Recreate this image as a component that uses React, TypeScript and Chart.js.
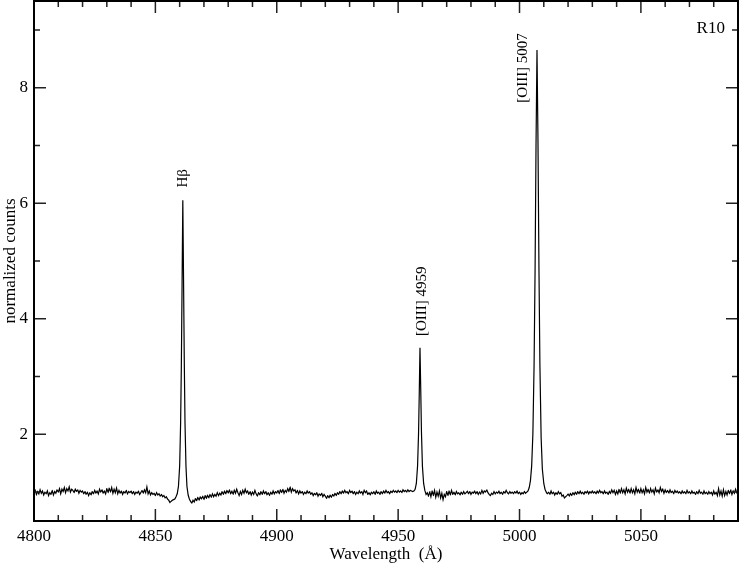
import { useEffect, useRef } from "react";
import { Chart, registerables } from "chart.js";

Chart.register(...registerables);

// ---- data: [wavelength (Å), normalized counts] ----
const blueContinuum: [number, number][] = [
  [4800, 0.99], [4800.5, 1.03], [4801, 0.96], [4801.5, 1.01], [4802, 0.97], [4802.5, 1.04], [4803, 0.98], [4803.5, 1.02], [4804, 0.95], [4804.5, 1.0],
  [4805, 0.97], [4805.5, 1.02], [4806, 0.94], [4806.5, 0.99], [4807, 0.96], [4807.5, 1.03], [4808, 0.95], [4808.5, 1.01], [4809, 0.98], [4809.5, 1.04],
  [4810, 1.0], [4810.5, 1.06], [4811, 0.97], [4811.5, 1.05], [4812, 1.01], [4812.5, 1.08], [4813, 0.99], [4813.5, 1.06], [4814, 1.02], [4814.5, 1.09],
  [4815, 1.0], [4815.5, 1.05], [4816, 1.03], [4816.5, 0.99], [4817, 1.05], [4817.5, 1.01], [4818, 1.04], [4818.5, 0.98], [4819, 1.03], [4819.5, 1.0],
  [4820, 1.02], [4820.5, 0.97], [4821, 1.01], [4821.5, 0.96], [4822, 1.0], [4822.5, 0.94], [4823, 0.99], [4823.5, 0.95], [4824, 1.01], [4824.5, 0.97],
  [4825, 1.03], [4825.5, 0.98], [4826, 1.02], [4826.5, 0.97], [4827, 1.05], [4827.5, 1.0], [4828, 1.04], [4828.5, 0.98], [4829, 1.02], [4829.5, 0.97],
  [4830, 1.06], [4830.5, 0.99], [4831, 1.07], [4831.5, 1.0], [4832, 1.08], [4832.5, 0.98], [4833, 1.05], [4833.5, 0.99], [4834, 1.07], [4834.5, 0.97],
  [4835, 1.03], [4835.5, 0.98], [4836, 1.02], [4836.5, 0.96], [4837, 1.01], [4837.5, 0.98], [4838, 1.03], [4838.5, 0.97], [4839, 1.01], [4839.5, 0.99],
  [4840, 1.02], [4840.5, 0.97], [4841, 1.01], [4841.5, 0.96], [4842, 1.0], [4842.5, 0.98], [4843, 1.02], [4843.5, 0.96], [4844, 0.99], [4844.5, 1.03],
  [4845, 0.98], [4845.5, 1.04], [4846, 0.99], [4846.5, 1.09], [4847, 0.97], [4847.5, 1.02], [4848, 0.95], [4848.5, 0.99], [4849, 0.96], [4849.5, 0.98],
  [4850, 0.94], [4850.5, 0.99], [4851, 0.95], [4851.5, 0.97], [4852, 0.93], [4852.5, 0.96], [4853, 0.92], [4853.5, 0.94], [4854, 0.9], [4854.5, 0.92],
  [4855, 0.88], [4855.5, 0.86], [4856, 0.82], [4856.5, 0.84], [4857, 0.86], [4857.5, 0.87],
];

const hBetaLine: [number, number][] = [
  [4858, 0.88], [4858.5, 0.92], [4859, 0.97], [4859.5, 1.1], [4860, 1.45], [4860.4, 2.2], [4860.7, 3.2], [4861, 4.6],
  [4861.3, 6.05], [4861.6, 4.7], [4861.9, 3.3], [4862.2, 2.2], [4862.6, 1.45], [4863, 1.1], [4863.5, 0.95],
];

const midContinuum: [number, number][] = [
  [4864, 0.88], [4864.5, 0.84], [4865, 0.81], [4865.5, 0.86], [4866, 0.83], [4866.5, 0.89], [4867, 0.85], [4867.5, 0.91], [4868, 0.86], [4868.5, 0.92],
  [4869, 0.88], [4869.5, 0.93], [4870, 0.87], [4870.5, 0.94], [4871, 0.89], [4871.5, 0.95], [4872, 0.9], [4872.5, 0.96], [4873, 0.91], [4873.5, 0.97],
  [4874, 0.92], [4874.5, 0.96], [4875, 0.93], [4875.5, 0.99], [4876, 0.94], [4876.5, 0.98], [4877, 0.95], [4877.5, 1.01], [4878, 0.96], [4878.5, 1.02],
  [4879, 0.97], [4879.5, 1.03], [4880, 0.98], [4880.5, 1.04], [4881, 0.97], [4881.5, 1.02], [4882, 0.96], [4882.5, 1.03], [4883, 0.98], [4883.5, 1.05],
  [4884, 0.99], [4884.5, 0.94], [4885, 1.01], [4885.5, 0.96], [4886, 1.03], [4886.5, 0.98], [4887, 1.05], [4887.5, 0.99], [4888, 1.02], [4888.5, 0.96],
  [4889, 1.01], [4889.5, 0.95], [4890, 1.0], [4890.5, 0.96], [4891, 1.03], [4891.5, 0.97], [4892, 0.93], [4892.5, 0.99], [4893, 0.95], [4893.5, 1.01],
  [4894, 0.96], [4894.5, 1.02], [4895, 0.97], [4895.5, 1.01], [4896, 0.95], [4896.5, 0.99], [4897, 0.94], [4897.5, 1.0], [4898, 0.96], [4898.5, 1.02],
  [4899, 0.97], [4899.5, 1.01], [4900, 0.98], [4900.5, 1.03], [4901, 0.97], [4901.5, 1.04], [4902, 0.99], [4902.5, 1.05], [4903, 0.98], [4903.5, 1.03],
  [4904, 1.0], [4904.5, 1.06], [4905, 1.01], [4905.5, 1.09], [4906, 1.0], [4906.5, 1.06], [4907, 1.02], [4907.5, 1.04], [4908, 0.98], [4908.5, 1.03],
  [4909, 0.97], [4909.5, 1.02], [4910, 0.98], [4910.5, 1.01], [4911, 0.96], [4911.5, 1.0], [4912, 0.97], [4912.5, 1.02], [4913, 0.98], [4913.5, 1.01],
  [4914, 0.96], [4914.5, 0.99], [4915, 0.94], [4915.5, 0.98], [4916, 0.95], [4916.5, 0.99], [4917, 0.93], [4917.5, 0.97], [4918, 0.94], [4918.5, 0.98],
  [4919, 0.92], [4919.5, 0.96], [4920, 0.93], [4920.5, 0.89], [4921, 0.94], [4921.5, 0.9], [4922, 0.95], [4922.5, 0.91], [4923, 0.96], [4923.5, 0.93],
  [4924, 0.98], [4924.5, 0.94], [4925, 0.99], [4925.5, 0.96], [4926, 1.01], [4926.5, 0.97], [4927, 1.02], [4927.5, 0.98], [4928, 1.03], [4928.5, 0.99],
  [4929, 1.01], [4929.5, 0.97], [4930, 1.03], [4930.5, 0.99], [4931, 1.02], [4931.5, 0.97], [4932, 1.01], [4932.5, 0.96], [4933, 1.0], [4933.5, 0.97],
  [4934, 1.02], [4934.5, 0.98], [4935, 1.01], [4935.5, 0.96], [4936, 1.03], [4936.5, 0.99], [4937, 1.02], [4937.5, 0.96], [4938, 0.99], [4938.5, 0.95],
  [4939, 1.0], [4939.5, 0.97], [4940, 1.01], [4940.5, 0.96], [4941, 1.02], [4941.5, 0.98], [4942, 1.0], [4942.5, 0.96], [4943, 1.01], [4943.5, 0.97],
  [4944, 1.02], [4944.5, 0.98], [4945, 1.03], [4945.5, 0.99], [4946, 1.01], [4946.5, 0.97], [4947, 1.02], [4947.5, 0.99], [4948, 1.03], [4948.5, 1.0],
  [4949, 1.02], [4949.5, 0.99], [4950, 1.03], [4950.5, 1.0], [4951, 1.02], [4951.5, 0.99], [4952, 1.04], [4952.5, 1.01], [4953, 1.03], [4953.5, 1.0],
  [4954, 1.04], [4954.5, 1.01], [4955, 1.03], [4955.5, 1.02], [4956, 1.01],
];

const oiii4959Line: [number, number][] = [
  [4956.5, 1.02], [4957, 1.05], [4957.5, 1.15], [4958, 1.45], [4958.4, 2.0], [4958.7, 2.7], [4959, 3.5],
  [4959.3, 2.8], [4959.6, 2.05], [4960, 1.45], [4960.5, 1.15], [4961, 1.03], [4961.5, 0.96],
];

const gapContinuum: [number, number][] = [
  [4962, 0.99], [4962.5, 0.93], [4963, 1.01], [4963.5, 0.92], [4964, 1.02], [4964.5, 0.94], [4965, 1.03], [4965.5, 0.91], [4966, 1.0], [4966.5, 0.93],
  [4967, 1.02], [4967.5, 0.9], [4968, 0.98], [4968.5, 0.87], [4969, 0.96], [4969.5, 0.92], [4970, 1.01], [4970.5, 0.94], [4971, 1.02], [4971.5, 0.95],
  [4972, 1.03], [4972.5, 0.96], [4973, 1.0], [4973.5, 0.95], [4974, 1.01], [4974.5, 0.97], [4975, 0.99], [4975.5, 0.95],
  [4976, 1.0], [4976.5, 0.96], [4977, 1.01], [4977.5, 0.97], [4978, 0.99], [4978.5, 1.02], [4979, 0.97], [4979.5, 1.01], [4980, 0.96], [4980.5, 1.0],
  [4981, 0.98], [4981.5, 1.02], [4982, 0.97], [4982.5, 1.01], [4983, 0.96], [4983.5, 1.0], [4984, 0.97], [4984.5, 1.03], [4985, 0.98], [4985.5, 1.02],
  [4986, 1.0], [4986.5, 1.04], [4987, 0.99], [4987.5, 0.96], [4988, 0.94], [4988.5, 0.98], [4989, 0.96], [4989.5, 1.01], [4990, 0.97], [4990.5, 1.0],
  [4991, 0.98], [4991.5, 1.02], [4992, 0.97], [4992.5, 1.0], [4993, 0.96], [4993.5, 1.01], [4994, 0.98], [4994.5, 1.03], [4995, 0.99], [4995.5, 0.97],
  [4996, 1.01], [4996.5, 0.98], [4997, 1.0], [4997.5, 0.97], [4998, 1.01], [4998.5, 0.98], [4999, 1.02], [4999.5, 0.97], [5000, 1.0], [5000.5, 0.96],
  [5001, 0.99], [5001.5, 0.97], [5002, 1.01], [5002.5, 0.98], [5003, 1.0],
];

const oiii5007Line: [number, number][] = [
  [5003.5, 1.02], [5004, 1.08], [5004.5, 1.2], [5005, 1.45], [5005.5, 2.0], [5006, 3.2], [5006.4, 4.8], [5006.8, 7.0],
  [5007.2, 8.65], [5007.6, 7.1], [5008, 4.9], [5008.4, 3.2], [5008.9, 1.95], [5009.4, 1.4], [5010, 1.15], [5010.5, 1.05], [5011, 1.0],
];

const redContinuum: [number, number][] = [
  [5011.5, 0.97], [5012, 1.0], [5012.5, 0.96], [5013, 1.02], [5013.5, 0.97], [5014, 1.0], [5014.5, 0.95], [5015, 0.99], [5015.5, 0.96], [5016, 1.01],
  [5016.5, 0.97], [5017, 0.99], [5017.5, 0.93], [5018, 0.95], [5018.5, 0.9], [5019, 0.92], [5019.5, 0.94], [5020, 0.97], [5020.5, 0.93], [5021, 0.98],
  [5021.5, 0.94], [5022, 0.99], [5022.5, 0.95], [5023, 1.0], [5023.5, 0.96], [5024, 1.01], [5024.5, 0.97], [5025, 1.02], [5025.5, 0.97], [5026, 1.0],
  [5026.5, 0.96], [5027, 1.01], [5027.5, 0.98], [5028, 1.02], [5028.5, 0.97], [5029, 1.01], [5029.5, 0.98], [5030, 1.02], [5030.5, 0.98], [5031, 1.01],
  [5031.5, 0.97], [5032, 1.02], [5032.5, 0.98], [5033, 1.03], [5033.5, 0.99], [5034, 1.01], [5034.5, 0.97], [5035, 1.02], [5035.5, 0.98], [5036, 1.0],
  [5036.5, 0.96], [5037, 1.01], [5037.5, 0.98], [5038, 1.04], [5038.5, 0.99], [5039, 1.03], [5039.5, 0.96], [5040, 1.02], [5040.5, 0.97], [5041, 1.05],
  [5041.5, 0.98], [5042, 1.06], [5042.5, 0.99], [5043, 1.04], [5043.5, 0.97], [5044, 1.07], [5044.5, 1.0], [5045, 1.05], [5045.5, 0.98], [5046, 1.06],
  [5046.5, 0.99], [5047, 1.04], [5047.5, 0.97], [5048, 1.08], [5048.5, 1.0], [5049, 1.05], [5049.5, 0.98], [5050, 1.06], [5050.5, 0.99], [5051, 1.04],
  [5051.5, 0.97], [5052, 1.08], [5052.5, 1.0], [5053, 1.05], [5053.5, 0.98], [5054, 1.06], [5054.5, 1.0], [5055, 1.04], [5055.5, 0.97], [5056, 1.07],
  [5056.5, 1.0], [5057, 1.04], [5057.5, 0.99], [5058, 1.08], [5058.5, 1.01], [5059, 1.05], [5059.5, 0.98], [5060, 1.04], [5060.5, 0.99], [5061, 1.03],
  [5061.5, 0.98], [5062, 1.04], [5062.5, 0.99], [5063, 1.02], [5063.5, 0.97], [5064, 1.03], [5064.5, 0.99], [5065, 1.02], [5065.5, 0.98], [5066, 1.01],
  [5066.5, 0.97], [5067, 1.02], [5067.5, 0.98], [5068, 1.01], [5068.5, 0.97], [5069, 1.03], [5069.5, 0.98], [5070, 1.01], [5070.5, 0.97], [5071, 1.02],
  [5071.5, 0.98], [5072, 1.0], [5072.5, 0.96], [5073, 1.01], [5073.5, 0.97], [5074, 1.03], [5074.5, 0.98], [5075, 1.0], [5075.5, 0.96], [5076, 1.02],
  [5076.5, 0.97], [5077, 1.0], [5077.5, 0.96], [5078, 1.01], [5078.5, 0.97], [5079, 1.0], [5079.5, 0.95], [5080, 1.02], [5080.5, 0.96], [5081, 1.0],
  [5081.5, 0.94], [5082, 1.06], [5082.5, 0.95], [5083, 1.02], [5083.5, 0.93], [5084, 1.04], [5084.5, 0.94], [5085, 1.01], [5085.5, 0.95], [5086, 1.03],
  [5086.5, 0.97], [5087, 1.04], [5087.5, 0.96], [5088, 1.02], [5088.5, 0.98], [5089, 1.05], [5089.5, 0.99], [5090, 1.02],
];

// ---- axes ----
const xMin = 4800;
const xMax = 5090;
const yMin = 0.5;
const yMax = 9.5;
const xMajorTicks = [4800, 4850, 4900, 4950, 5000, 5050];
const xMinorTicks = [4810, 4820, 4830, 4840, 4860, 4870, 4880, 4890, 4910, 4920, 4930, 4940, 4960, 4970, 4980, 4990, 5010, 5020, 5030, 5040, 5060, 5070, 5080];
const yMajorTicks = [2, 4, 6, 8];
const yMinorTicks = [1, 3, 5, 7, 9];

// ---- labels ----
const lineLabels = [
  { text: "Hβ", x: 4861.3, y: 6.27 },
  { text: "[OIII] 4959", x: 4959.7, y: 3.7 },
  { text: "[OIII] 5007", x: 5001.5, y: 7.74 },
];
const panelLabel = { text: "R10", x: 5084.6, y: 9.03 };

const FONT = "'Liberation Serif', 'Times New Roman', serif";

const framePlugin = {
  id: "framePlugin",
  afterDraw(chart: any) {
    const { ctx, chartArea: a, scales } = chart;
    const xs = scales.x;
    const ys = scales.y;
    ctx.save();
    ctx.strokeStyle = "#222";
    ctx.lineWidth = 1.5;
    const drawX = (v: number, len: number) => {
      const px = xs.getPixelForValue(v);
      ctx.beginPath();
      ctx.moveTo(px, a.bottom);
      ctx.lineTo(px, a.bottom - len);
      ctx.moveTo(px, a.top);
      ctx.lineTo(px, a.top + len);
      ctx.stroke();
    };
    const drawY = (v: number, len: number) => {
      const py = ys.getPixelForValue(v);
      ctx.beginPath();
      ctx.moveTo(a.left, py);
      ctx.lineTo(a.left + len, py);
      ctx.moveTo(a.right, py);
      ctx.lineTo(a.right - len, py);
      ctx.stroke();
    };
    xMajorTicks.forEach((v) => drawX(v, 12));
    xMinorTicks.forEach((v) => drawX(v, 6));
    yMajorTicks.forEach((v) => drawY(v, 12));
    yMinorTicks.forEach((v) => drawY(v, 6));
    ctx.strokeStyle = "#000";
    ctx.lineWidth = 2;
    ctx.strokeRect(a.left, a.top, a.right - a.left, a.bottom - a.top);
    ctx.fillStyle = "#000";
    ctx.font = `15px ${FONT}`;
    lineLabels.forEach((l) => {
      const px = xs.getPixelForValue(l.x);
      const py = ys.getPixelForValue(l.y);
      ctx.save();
      ctx.translate(px, py);
      ctx.rotate(-Math.PI / 2);
      ctx.textAlign = "left";
      ctx.textBaseline = "middle";
      ctx.fillText(l.text, 0, 0);
      ctx.restore();
    });
    ctx.font = `17px ${FONT}`;
    ctx.textAlign = "right";
    ctx.textBaseline = "middle";
    ctx.fillText(panelLabel.text, xs.getPixelForValue(panelLabel.x), ys.getPixelForValue(panelLabel.y));
    ctx.restore();
  },
};

export default function App() {
  const ref = useRef<HTMLCanvasElement | null>(null);
  useEffect(() => {
    if (!ref.current) return;
    const spectrum = [
      ...blueContinuum,
      ...hBetaLine,
      ...midContinuum,
      ...oiii4959Line,
      ...gapContinuum,
      ...oiii5007Line,
      ...redContinuum,
    ].map(([x, y]) => ({ x, y }));
    const chart = new Chart(ref.current, {
      type: "line",
      data: {
        datasets: [
          {
            data: spectrum,
            borderColor: "#000",
            borderWidth: 1.2,
            pointRadius: 0,
            tension: 0.001,
            fill: false,
          },
        ],
      },
      options: {
        animation: false,
        responsive: false,
        layout: { padding: { left: 0, right: 2, top: 1, bottom: 0 } },
        plugins: { legend: { display: false }, tooltip: { enabled: false } },
        scales: {
          x: {
            type: "linear",
            min: xMin,
            max: xMax,
            grid: { display: false, drawTicks: false },
            border: { display: false },
            afterBuildTicks: (s: any) => {
              s.ticks = xMajorTicks.map((v) => ({ value: v }));
            },
            afterFit: (s: any) => {
              s.height = 46;
              s.paddingLeft = 0;
              s.paddingRight = 0;
            },
            ticks: {
              color: "#000",
              font: { family: FONT, size: 17 },
              padding: 5,
              maxRotation: 0,
              autoSkip: false,
              callback: (v: any) => String(v),
            },
            title: {
              display: true,
              text: "Wavelength  (Å)",
              color: "#000",
              font: { family: FONT, size: 17 },
              padding: { top: 0, bottom: 2 },
            },
          },
          y: {
            type: "linear",
            min: yMin,
            max: yMax,
            grid: { display: false, drawTicks: false },
            border: { display: false },
            afterBuildTicks: (s: any) => {
              s.ticks = yMajorTicks.map((v) => ({ value: v }));
            },
            afterFit: (s: any) => {
              s.width = 34;
              s.paddingTop = 0;
              s.paddingBottom = 0;
            },
            ticks: {
              color: "#000",
              font: { family: FONT, size: 17 },
              padding: 6,
              callback: (v: any) => String(v),
            },
            title: {
              display: true,
              text: "normalized counts",
              color: "#000",
              font: { family: FONT, size: 17 },
              padding: { top: 0, bottom: 0 },
            },
          },
        },
      },
      plugins: [framePlugin],
    } as any);
    return () => chart.destroy();
  }, []);
  return (
    <div style={{ position: "absolute", left: 0, top: 0, width: 740, height: 567, background: "#fff" }}>
      <canvas ref={ref} width={740} height={567} />
    </div>
  );
}
